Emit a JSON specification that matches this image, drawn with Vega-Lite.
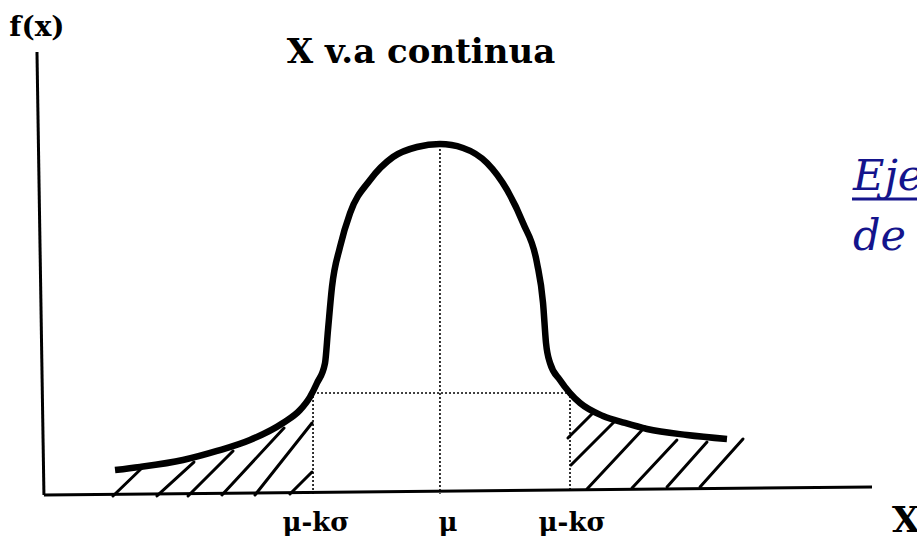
{
  "$schema": "https://vega.github.io/schema/vega-lite/v6.json",
  "width": 917,
  "height": 545,
  "autosize": {"type": "none"},
  "padding": 0,
  "background": "white",
  "config": {"view": {"stroke": null}, "text": {"font": "DejaVu Serif"}},
  "datasets": {
    "curve": [
      {"x": -2.527, "y": 0.0264}, {"x": -2.333, "y": 0.0299}, {"x": -2.0, "y": 0.0379},
      {"x": -1.736, "y": 0.0483}, {"x": -1.481, "y": 0.0609}, {"x": -1.225, "y": 0.0805},
      {"x": -1.093, "y": 0.0954}, {"x": -1.016, "y": 0.1103}, {"x": -0.961, "y": 0.1264},
      {"x": -0.899, "y": 0.1494}, {"x": -0.876, "y": 0.1874}, {"x": -0.845, "y": 0.2368},
      {"x": -0.783, "y": 0.2828}, {"x": -0.705, "y": 0.3218}, {"x": -0.55, "y": 0.3598},
      {"x": -0.372, "y": 0.3862}, {"x": -0.186, "y": 0.3977}, {"x": -0.008, "y": 0.4011},
      {"x": 0.171, "y": 0.3966}, {"x": 0.357, "y": 0.3793}, {"x": 0.512, "y": 0.3483},
      {"x": 0.636, "y": 0.3103}, {"x": 0.744, "y": 0.2644}, {"x": 0.791, "y": 0.2184},
      {"x": 0.814, "y": 0.1724}, {"x": 0.845, "y": 0.1494}, {"x": 0.922, "y": 0.1299},
      {"x": 1.0, "y": 0.1149}, {"x": 1.078, "y": 0.1034}, {"x": 1.256, "y": 0.0885},
      {"x": 1.426, "y": 0.0805}, {"x": 1.597, "y": 0.0736}, {"x": 1.907, "y": 0.0667},
      {"x": 2.217, "y": 0.0621}
    ],
    "segments": [
      {"kind": "axis", "x": -3.132, "y": 0.5069, "x2": -3.078, "y2": -0.0023},
      {"kind": "axis", "x": -3.078, "y": -0.0023, "x2": 3.341, "y2": 0.0069},
      {"kind": "dot", "x": -0.008, "y": 0.4, "x2": -0.008, "y2": -0.001},
      {"kind": "dot", "x": -0.992, "y": 0.1115, "x2": -0.992, "y2": -0.0023},
      {"kind": "dot", "x": 1.0, "y": 0.1161, "x2": 1.0, "y2": 0.0034},
      {"kind": "dot", "x": -0.992, "y": 0.1149, "x2": 1.0, "y2": 0.1149},
      {"kind": "hatch", "x": -2.543, "y": -0.0034, "x2": -2.318, "y2": 0.0287},
      {"kind": "hatch", "x": -2.202, "y": -0.0034, "x2": -1.915, "y2": 0.0356},
      {"kind": "hatch", "x": -1.961, "y": -0.0034, "x2": -1.612, "y2": 0.0483},
      {"kind": "hatch", "x": -1.698, "y": -0.0023, "x2": -1.217, "y2": 0.0747},
      {"kind": "hatch", "x": -1.442, "y": -0.0023, "x2": -1.0, "y2": 0.0805},
      {"kind": "hatch", "x": -1.171, "y": -0.0011, "x2": -1.0, "y2": 0.0241},
      {"kind": "hatch", "x": 0.984, "y": 0.0632, "x2": 1.178, "y2": 0.092},
      {"kind": "hatch", "x": 1.008, "y": 0.0322, "x2": 1.349, "y2": 0.0828},
      {"kind": "hatch", "x": 1.132, "y": 0.0046, "x2": 1.581, "y2": 0.0759},
      {"kind": "hatch", "x": 1.481, "y": 0.0057, "x2": 1.829, "y2": 0.0609},
      {"kind": "hatch", "x": 1.752, "y": 0.0069, "x2": 2.062, "y2": 0.0586},
      {"kind": "hatch", "x": 2.008, "y": 0.0069, "x2": 2.341, "y2": 0.0621},
      {"kind": "underline", "x": 3.186, "y": 0.3379, "x2": 3.75, "y2": 0.3379}
    ],
    "labels": [
      {"kind": "fx", "x": -3.132, "y": 0.5253, "text": "f(x)"},
      {"kind": "title", "x": -0.155, "y": 0.4943, "text": "X v.a continua"},
      {"kind": "tick", "x": -0.969, "y": -0.0437, "text": "μ-kσ"},
      {"kind": "tick", "x": 0.054, "y": -0.0437, "text": "μ"},
      {"kind": "tick", "x": 1.016, "y": -0.0437, "text": "μ-kσ"},
      {"kind": "xname", "x": 3.496, "y": -0.0448, "text": "X"},
      {"kind": "blue", "x": 3.194, "y": 0.3483, "text": "Ejemplo"},
      {"kind": "blue", "x": 3.194, "y": 0.2793, "text": "de"}
    ]
  },
  "encoding": {
    "x": {"field": "x", "type": "quantitative", "scale": {"domain": [-3.4186, 3.6899], "nice": false, "zero": false}, "axis": null},
    "y": {"field": "y", "type": "quantitative", "scale": {"domain": [-0.05977, 0.56667], "nice": false, "zero": false}, "axis": null}
  },
  "layer": [
    {
      "data": {"name": "segments"},
      "transform": [{"filter": "datum.kind === 'hatch'"}],
      "mark": {"type": "rule", "color": "black", "strokeWidth": 3, "strokeCap": "round"},
      "encoding": {"x2": {"field": "x2"}, "y2": {"field": "y2"}}
    },
    {
      "data": {"name": "segments"},
      "transform": [{"filter": "datum.kind === 'dot'"}],
      "mark": {"type": "rule", "color": "black", "strokeWidth": 1.6, "strokeDash": [2, 2]},
      "encoding": {"x2": {"field": "x2"}, "y2": {"field": "y2"}}
    },
    {
      "data": {"name": "segments"},
      "transform": [{"filter": "datum.kind === 'axis'"}],
      "mark": {"type": "rule", "color": "black", "strokeWidth": 3},
      "encoding": {"x2": {"field": "x2"}, "y2": {"field": "y2"}}
    },
    {
      "data": {"name": "segments"},
      "transform": [{"filter": "datum.kind === 'underline'"}],
      "mark": {"type": "rule", "color": "#14148c", "strokeWidth": 3},
      "encoding": {"x2": {"field": "x2"}, "y2": {"field": "y2"}}
    },
    {
      "data": {"name": "curve"},
      "mark": {"type": "line", "color": "black", "strokeWidth": 6.5, "interpolate": "monotone", "strokeCap": "butt", "strokeJoin": "round"},
      "encoding": {}
    },
    {
      "data": {"name": "labels"},
      "transform": [{"filter": "datum.kind === 'fx'"}],
      "mark": {"type": "text", "font": "DejaVu Serif", "fontWeight": "bold", "fontSize": 28, "align": "center", "baseline": "alphabetic", "color": "black"},
      "encoding": {"text": {"field": "text"}}
    },
    {
      "data": {"name": "labels"},
      "transform": [{"filter": "datum.kind === 'title'"}],
      "mark": {"type": "text", "font": "DejaVu Serif", "fontWeight": "bold", "fontSize": 34, "align": "center", "baseline": "alphabetic", "color": "black"},
      "encoding": {"text": {"field": "text"}}
    },
    {
      "data": {"name": "labels"},
      "transform": [{"filter": "datum.kind === 'tick'"}],
      "mark": {"type": "text", "font": "DejaVu Serif", "fontWeight": "bold", "fontSize": 26, "align": "center", "baseline": "alphabetic", "color": "black"},
      "encoding": {"text": {"field": "text"}}
    },
    {
      "data": {"name": "labels"},
      "transform": [{"filter": "datum.kind === 'xname'"}],
      "mark": {"type": "text", "font": "DejaVu Serif", "fontWeight": "bold", "fontSize": 36, "align": "left", "baseline": "alphabetic", "color": "black"},
      "encoding": {"text": {"field": "text"}}
    },
    {
      "data": {"name": "labels"},
      "transform": [{"filter": "datum.kind === 'blue'"}],
      "mark": {"type": "text", "font": "DejaVu Serif", "fontStyle": "italic", "fontSize": 43, "align": "left", "baseline": "alphabetic", "color": "#14148c"},
      "encoding": {"text": {"field": "text"}}
    }
  ]
}
